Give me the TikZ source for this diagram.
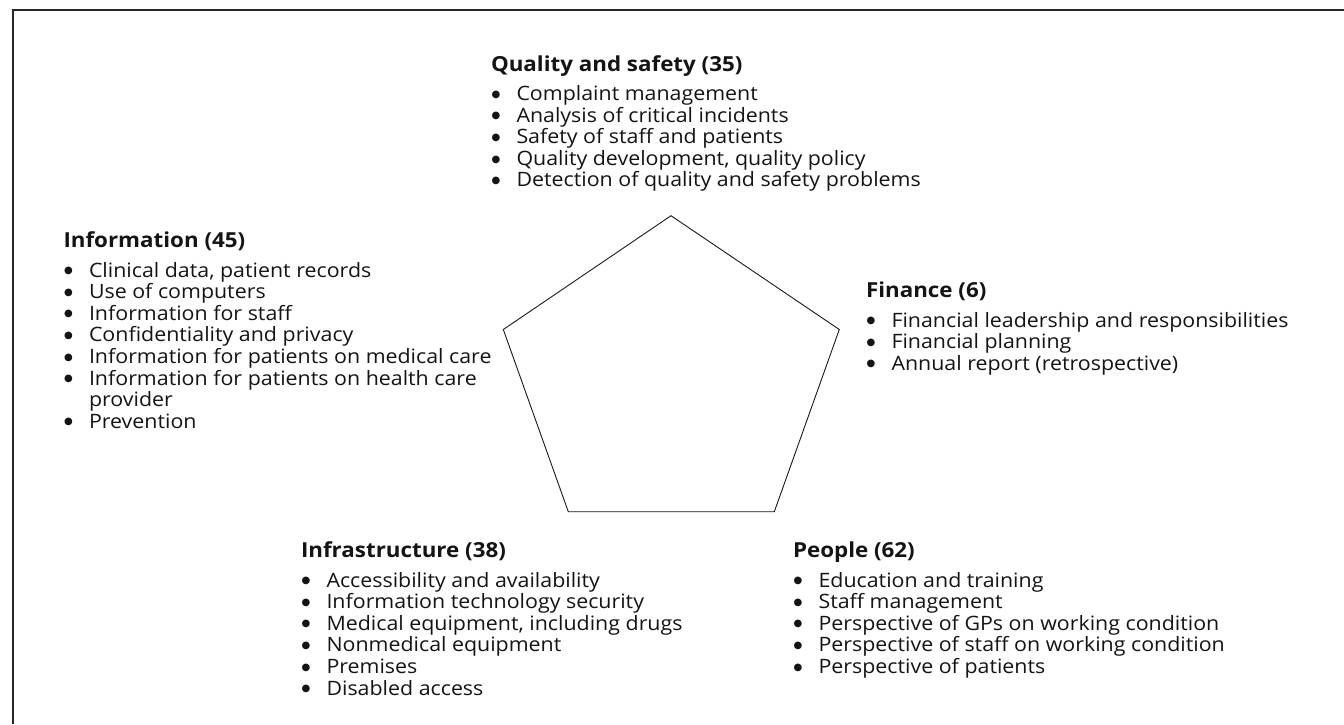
\documentclass[tikz,border=0pt]{standalone}
\usepackage{fontspec}
\setmainfont{Open Sans}[FakeStretch=1.08]
\newfontfamily\dotfont{DejaVu Sans}
\begin{document}
\begin{tikzpicture}[x=1pt,y=-1pt,
  frameline/.style={line width=1.4pt,draw=black!85},
  pentline/.style={line width=0.9pt,draw=black!90,line join=miter},
  listbox/.style={anchor=base west,inner sep=0pt,outer sep=0pt,text=black!92,
    font=\fontsize{19.8}{21.6}\selectfont}]
\newcommand\grouptitle[1]{\hbox{\fontsize{20.7}{21.6}\bfseries #1}\vskip 7.9pt}
\newcommand\listdot{\raisebox{3.3pt}{\dotfont\fontsize{10}{10}\selectfont ●}}
\newcommand\bitem[1]{\hbox{\makebox[25.5pt][l]{\hspace{0.5pt}\listdot}#1}}
\newcommand\bcont[1]{\hbox{\hspace{25.5pt}#1}}
\newcommand\listsetup{\baselineskip=21.6pt\lineskiplimit=-100pt}

% canvas
\useasboundingbox (0,0) rectangle (1344,724);
\fill[white] (0,0) rectangle (1344,724);

% open frame (top and left edges)
\coordinate (fbl) at (13,724);
\coordinate (ftl) at (13,10);
\coordinate (ftr) at (1344,10);
\draw[frameline] (fbl) -- (ftl) -- (ftr);

% pentagon
\coordinate (ptop) at (671,215.7);
\coordinate (pright) at (839.3,329.5);
\coordinate (pbr) at (774.3,511.7);
\coordinate (pbl) at (568.3,511.7);
\coordinate (pleft) at (503.3,329.5);
\draw[pentline] (ptop) -- (pright) -- (pbr) -- (pbl) -- (pleft) -- cycle;

% the five groups
\node[listbox] (quality) at (491,71) {\vtop{\listsetup
  \grouptitle{Quality and safety (35)}
  \bitem{Complaint management}
  \bitem{Analysis of critical incidents}
  \bitem{Safety of staff and patients}
  \bitem{Quality development, quality policy}
  \bitem{Detection of quality and safety problems}}};

\node[listbox] (information) at (63.5,247.5) {\vtop{\listsetup
  \grouptitle{Information (45)}
  \bitem{Clinical data, patient records}
  \bitem{Use of computers}
  \bitem{Information for staff}
  \bitem{Confidentiality and privacy}
  \bitem{Information for patients on medical care}
  \bitem{Information for patients on health care}
  \bcont{provider}
  \bitem{Prevention}}};

\node[listbox] (finance) at (866,297.5) {\vtop{\listsetup
  \grouptitle{Finance (6)}
  \bitem{Financial leadership and responsibilities}
  \bitem{Financial planning}
  \bitem{Annual report (retrospective)}}};

\node[listbox] (infrastructure) at (301,557.5) {\vtop{\listsetup
  \grouptitle{Infrastructure (38)}
  \bitem{Accessibility and availability}
  \bitem{Information technology security}
  \bitem{Medical equipment, including drugs}
  \bitem{Nonmedical equipment}
  \bitem{Premises}
  \bitem{Disabled access}}};

\node[listbox] (people) at (793,557.5) {\vtop{\listsetup
  \grouptitle{People (62)}
  \bitem{Education and training}
  \bitem{Staff management}
  \bitem{Perspective of GPs on working condition}
  \bitem{Perspective of staff on working condition}
  \bitem{Perspective of patients}}};
\end{tikzpicture}
\end{document}
